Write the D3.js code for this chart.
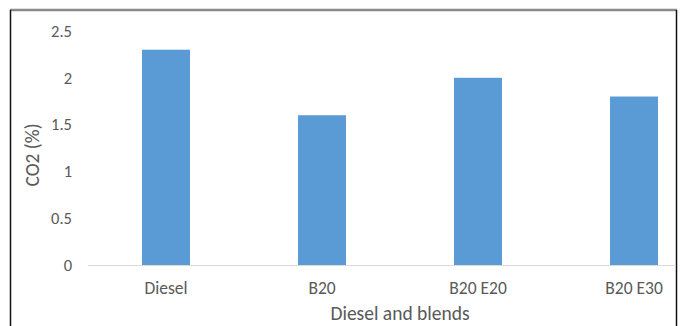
<!DOCTYPE html>
<html>
<head>
<meta charset="utf-8">
<script src="https://cdn.jsdelivr.net/npm/d3@7"></script>
<style>
  body { margin: 0; background: #fff; }
  text { font-family: Carlito, Lato, "Open Sans", sans-serif; fill: #595959; }
</style>
</head>
<body>
<div id="chart"></div>
<script>
const categories = ['Diesel', 'B20', 'B20 E20', 'B20 E30']
const co2 = [2.3, 1.6, 2.0, 1.8]
const yTicks = [0, 0.5, 1, 1.5, 2, 2.5]

function draw(){
    const dimensions = {
        width: 683,
        height: 326,
        left: 88,
        right: 712,
        top: 31,
        bottom: 265
    }

    const svg = d3.select('#chart')
        .append('svg')
        .attr('width', dimensions.width)
        .attr('height', dimensions.height)

    // frame (screenshot crop: top, left, right edges)
    svg.append('line')
        .attr('x1', 10).attr('x2', 677)
        .attr('y1', 10).attr('y2', 10)
        .attr('stroke', '#8a8a8a')
        .attr('stroke-width', 2.5)
    svg.append('line')
        .attr('x1', 10.5).attr('x2', 10.5)
        .attr('y1', 10).attr('y2', 326)
        .attr('stroke', '#111')
        .attr('stroke-width', 1.5)
    svg.append('line')
        .attr('x1', 676.5).attr('x2', 676.5)
        .attr('y1', 10).attr('y2', 326)
        .attr('stroke', '#111')
        .attr('stroke-width', 1.5)

    // scales
    const xScale = d3.scaleBand()
        .domain(categories)
        .range([dimensions.left, dimensions.right])
        .paddingInner(0.692)
        .paddingOuter(0.346)

    const yScale = d3.scaleLinear()
        .domain([0, 2.5])
        .range([dimensions.bottom, dimensions.top])

    // bars
    svg.append('g')
        .selectAll('rect')
        .data(categories)
        .join('rect')
        .attr('x', d => xScale(d))
        .attr('y', (d, i) => yScale(co2[i]))
        .attr('width', xScale.bandwidth())
        .attr('height', (d, i) => yScale(0) - yScale(co2[i]))
        .attr('fill', '#5b9bd5')

    // baseline
    svg.append('line')
        .attr('x1', dimensions.left).attr('x2', 676)
        .attr('y1', yScale(0) + 0.5).attr('y2', yScale(0) + 0.5)
        .attr('stroke', '#d9d9d9')
        .attr('stroke-width', 1)

    // y axis labels
    const yAxis = d3.axisLeft(yScale)
        .tickValues(yTicks)
        .tickFormat(d3.format('~g'))
        .tickSize(0)
        .tickPadding(0)
    svg.append('g')
        .attr('transform', 'translate(72,0)')
        .call(yAxis)
        .call(g => g.select('.domain').remove())
        .selectAll('text')
        .attr('font-size', 16.5)
        .style('font-family', 'Carlito, Lato, "Open Sans", sans-serif')
        .attr('fill', '#595959')

    // x axis labels
    const xAxis = d3.axisBottom(xScale)
        .tickSize(0)
        .tickPadding(0)
    svg.append('g')
        .attr('transform', `translate(0,${dimensions.bottom + 17})`)
        .call(xAxis)
        .call(g => g.select('.domain').remove())
        .selectAll('text')
        .attr('font-size', 17.5)
        .style('font-family', 'Carlito, Lato, "Open Sans", sans-serif')
        .attr('fill', '#595959')

    // axis titles
    svg.append('text')
        .attr('x', (dimensions.left + dimensions.right) / 2)
        .attr('y', 320)
        .attr('text-anchor', 'middle')
        .attr('font-size', 19.5)
        .text('Diesel and blends')

    svg.append('text')
        .attr('transform', 'translate(39,155) rotate(-90)')
        .attr('text-anchor', 'middle')
        .attr('font-size', 19.5)
        .text('CO2 (%)')
}

draw()
</script>
</body>
</html>
